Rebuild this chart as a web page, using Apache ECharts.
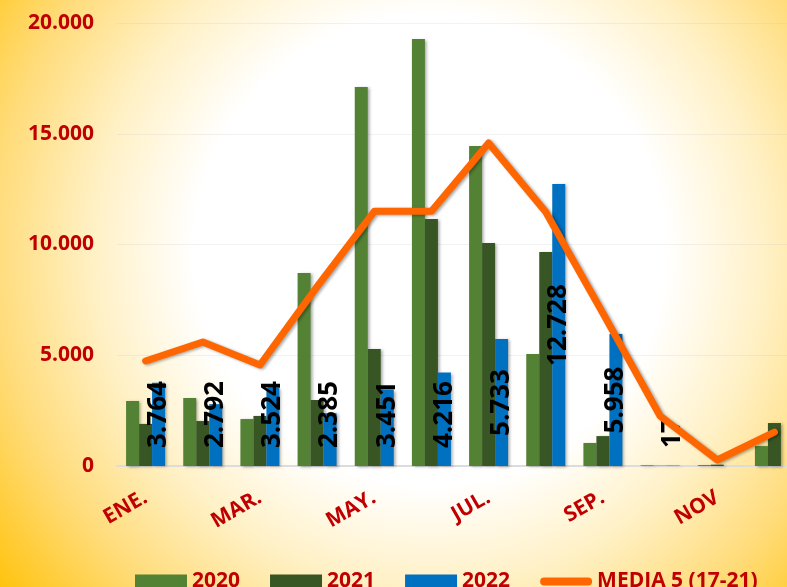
<!DOCTYPE html>
<html>
<head>
<meta charset="utf-8">
<script src="https://cdn.jsdelivr.net/npm/echarts@6/dist/echarts.min.js"></script>
<style>
  html, body { margin: 0; padding: 0; }
  #chart { width: 787px; height: 587px; }
</style>
</head>
<body>
<div id="chart"></div>
<script>
const months = ["ENE.", "FEB.", "MAR.", "ABR.", "MAY.", "JUN.", "JUL.", "AGO.", "SEP.", "OCT.", "NOV", "DIC."]
const data2020 = [2930, 3070, 2120, 8710, 17110, 19280, 14450, 5060, 1040, 30, 40, 900]
const data2021 = [1900, 2030, 2260, 2980, 5280, 11150, 10070, 9660, 1350, 10, 60, 1940]
const data2022 = [3764, 2792, 3524, 2385, 3451, 4216, 5733, 12728, 5958, 17, null, null]
const media = [4740, 5600, 4560, 8100, 11500, 11500, 14580, 11470, 6900, 2260, 270, 1530]

const red = "#C00000"
const font = "Open Sans"

const fmt = (v) => String(v).replace(/\B(?=(\d{3})+(?!\d))/g, ".")

const shadow = {
	shadowBlur: 3,
	shadowColor: "rgba(0,0,0,0.35)",
	shadowOffsetX: 2,
	shadowOffsetY: 1,
}

// big bars get the label centred, small ones start it just above the base
const labelled2022 = data2022.map((v) => {
	if (v == null) return null
	if (v > 5000) return { value: v, label: { position: "inside" } }
	return { value: v, label: { position: "insideBottom", distance: 18, align: "left", verticalAlign: "middle" } }
})

const chart = echarts.init(document.getElementById("chart"))

const options = {
	backgroundColor: {
		type: "radial",
		x: 0.546,
		y: 0.426,
		r: 0.954,
		colorStops: [
			{ offset: 0, color: "#ffffff" },
			{ offset: 0.42, color: "#ffffff" },
			{ offset: 0.6, color: "#FFF1C6" },
			{ offset: 0.78, color: "#FFDC7A" },
			{ offset: 1, color: "#FFC000" },
		],
	},
	animation: false,
	grid: {
		left: 117,
		top: 23,
		width: 686,
		height: 443,
		outerBoundsMode: "none",
	},
	legend: {
		left: 130,
		top: 566,
		itemWidth: 52,
		itemHeight: 14,
		itemGap: 30,
		textStyle: {
			color: red,
			fontFamily: font,
			fontWeight: "bold",
			fontSize: 21,
		},
		data: [
			{ name: "2020", icon: "rect" },
			{ name: "2021", icon: "rect" },
			{ name: "2022", icon: "rect" },
			{
				name: "MEDIA 5 (17-21)",
				icon: "path://M26,0L26,0Z M4,3 L48,3 A4,4 0 0 1 48,11 L4,11 A4,4 0 0 1 4,3 Z M26,14L26,14Z",
				itemStyle: { color: "#FF6600" },
			},
		],
	},
	xAxis: {
		type: "category",
		data: months,
		axisTick: { show: false },
		axisLine: { lineStyle: { color: "#dcdcdc", width: 2 } },
		axisLabel: {
			interval: 1,
			rotate: 30,
			margin: 30,
			color: red,
			fontFamily: font,
			fontWeight: "bold",
			fontSize: 21,
		},
	},
	yAxis: {
		type: "value",
		min: 0,
		max: 20000,
		interval: 5000,
		axisLine: { show: false },
		axisTick: { show: false },
		splitLine: { lineStyle: { color: "rgba(190,190,190,0.2)" } },
		axisLabel: {
			margin: 23,
			color: red,
			fontFamily: font,
			fontWeight: "bold",
			fontSize: 21,
			formatter: fmt,
		},
	},
	series: [
		{
			name: "2020",
			type: "bar",
			barWidth: 13,
			barGap: "0%",
			itemStyle: { color: "#548235", ...shadow },
			data: data2020,
		},
		{
			name: "2021",
			type: "bar",
			barWidth: 13,
			barGap: "0%",
			itemStyle: { color: "#375623", ...shadow },
			data: data2021,
		},
		{
			name: "2022",
			type: "bar",
			barWidth: 13,
			barGap: "0%",
			itemStyle: { color: "#0070C0", ...shadow },
			label: {
				show: true,
				rotate: 90,
				color: "#000",
				fontFamily: font,
				fontWeight: "bold",
				fontSize: 26,
				formatter: (p) => fmt(p.value),
			},
			data: labelled2022,
		},
		{
			// same z as the bars so the bar labels stay on top of the line
			name: "MEDIA 5 (17-21)",
			type: "line",
			symbol: "none",
			z: 2,
			itemStyle: { color: "#FF6600" },
			lineStyle: { color: "#FF6600", width: 7, cap: "round", join: "round", ...shadow },
			data: media,
		},
	],
}

chart.setOption(options)
</script>
</body>
</html>
